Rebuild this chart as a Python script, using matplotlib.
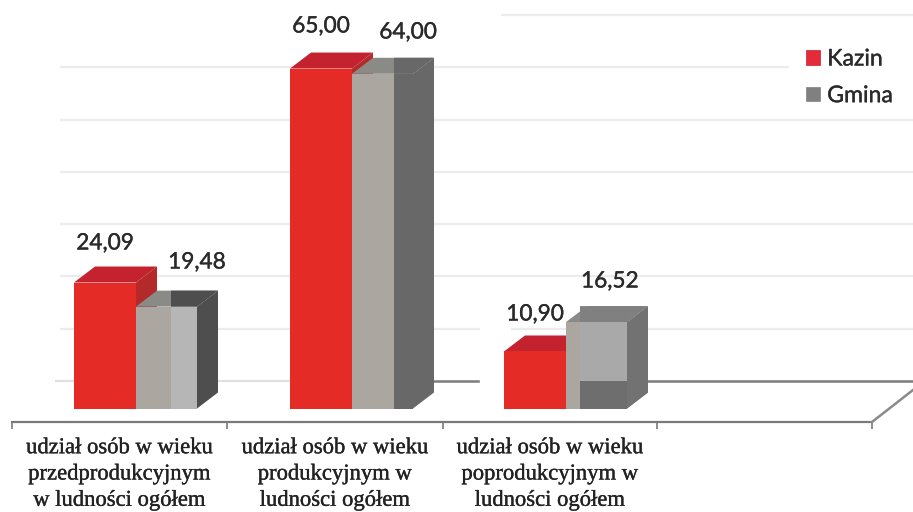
import matplotlib
matplotlib.use("Agg")
import matplotlib.pyplot as plt
import matplotlib.patheffects as pe
from matplotlib.patches import Polygon, Patch, Rectangle
import numpy as np

categories = ["udział osób w wieku\nprzedprodukcyjnym\nw ludności ogółem",
              "udział osób w wieku\nprodukcyjnym w\nludności ogółem",
              "udział osób w wieku\npoprodukcyjnym w\nludności ogółem"]
kazin = [24.09, 65.00, 10.90]
gmina = [19.48, 64.00, 16.52]
series_names = ["Kazin", "Gmina"]
grid_values = np.arange(0, 80, 10)

# layout, all in pixels of the 913x512 picture
PX = 5.23          # pixels per unit of value
BASE = 408.5       # pixel row of value 0 on the front of the bars
DX, DY = 21, 16    # depth of a bar
group_left = [74, 290, 504]
W_RED, W_GRAY = 62, 61
split = [35, 42, 14]
split_front = ["#b6b6b6", "#686868", "#a9a9a9"]
split_top = ["#4e4e4e", "#686868", "#808080"]
side_color = ["#4e4e4e", "#686868", "#727272"]
label_pos = [[(105, 243), (321, 26), (535, 314)],
             [(197, 262), (408, 32), (610, 281)]]
ticks_x = [12, 227, 443, 657, 872]


def val(y_px):
    return (BASE - y_px) / PX


fig, ax = plt.subplots(figsize=(9.13, 5.12), dpi=100)
fig.subplots_adjust(0, 0, 1, 1)
ax.set_xlim(0, 913)
ax.set_ylim(val(512), val(0))
ax.axis("off")

dv = DY / PX
wall = val(381)

# back wall grid
ax.hlines(grid_values[1:] + wall, 60, 913, color="#ececec", lw=1.6, zorder=1)
ax.hlines(wall, 55, 433, color="#e0e0e0", lw=1.6, zorder=1)
ax.hlines(wall, 433, 913, color="#7c7c7c", lw=1.8, zorder=1)

# white patches left by the scan
ax.add_patch(Rectangle((789, val(108)), 124, val(36) - val(108), color="white", zorder=2))
ax.add_patch(Rectangle((480, val(420)), 30, val(322) - val(420), color="white", zorder=2))
ax.add_patch(Rectangle((0, val(40)), 500, val(0) - val(40), color="white", zorder=2))

# floor
ax.plot([ticks_x[0], ticks_x[-1]], [val(422), val(422)], color="#7a7a7a", lw=1.6, zorder=3)
ax.vlines(ticks_x, val(429), val(422), color="#7a7a7a", lw=1.2, zorder=3)
ax.plot([ticks_x[-1], ticks_x[-1] + 55], [val(422), val(422 - 55 * 32 / 41)],
        color="#8a8a8a", lw=1.8, zorder=3)


def top_face(x0, x1, v, color, z):
    # slanted top of a bar between x0 and x1 on its front edge
    pts = [(x0, v), (x0 + DX, v + dv), (x1 + DX, v + dv), (x1, v)]
    ax.add_patch(Polygon(pts, closed=True, color=color, lw=0, zorder=z))


def side_face(x1, v, color, z):
    pts = [(x1, 0), (x1 + DX, dv), (x1 + DX, v + dv), (x1, v)]
    ax.add_patch(Polygon(pts, closed=True, color=color, lw=0, zorder=z))


for i, left in enumerate(group_left):
    red_r = left + W_RED
    gray_r = red_r + W_GRAY
    cut = red_r + split[i]

    # red bar
    side_face(red_r, kazin[i], "#b42a2a", 4)
    top_face(left, red_r, kazin[i], "#c4222e", 5)
    ax.bar(left, kazin[i], W_RED, align="edge", color="#e52b25", zorder=5)

    # gray bar
    side_face(gray_r, gmina[i], side_color[i], 6)
    top_face(red_r, gray_r, gmina[i], "#8a8a86", 7)
    top_x = [cut, cut, gray_r + DX, gray_r]
    top_y = [gmina[i], gmina[i] + dv, gmina[i] + dv, gmina[i]]
    ax.add_patch(Polygon(list(zip(top_x, top_y)), closed=True, color=split_top[i], lw=0, zorder=7))
    ax.bar(red_r, gmina[i], W_GRAY, align="edge", color="#aba6a0", zorder=7)
    ax.bar(cut, gmina[i], gray_r - cut, align="edge", color=split_front[i], zorder=8)
    if i == 2:
        # floor seen through the last bar
        ax.bar(cut, wall, gray_r - cut, align="edge", color="#6e6e6e", zorder=9)
        side_face(gray_r, wall, "#727272", 9)

# value labels
for values, positions in zip([kazin, gmina], label_pos):
    for v, (px, py) in zip(values, positions):
        ax.text(px, val(py), "{:.2f}".format(v).replace(".", ","), family="Lato",
                fontsize=16.3, color="#2a2a2a", ha="center", va="center", zorder=10,
                path_effects=[pe.withStroke(linewidth=0.25, foreground="#2a2a2a")])

# category labels
for i, c in enumerate(categories):
    x = (ticks_x[i] + ticks_x[i + 1]) / 2
    ax.text(x, val(474), c, family="Liberation Serif", fontsize=16.3, color="#222222",
            ha="center", va="center", linespacing=1.33, zorder=10,
            path_effects=[pe.withStroke(linewidth=0.25, foreground="#222222")])

handles = [Patch(facecolor="#e52b3a", edgecolor="#c4222e", lw=0.5),
           Patch(facecolor="#808080", edgecolor="#808080", lw=0.5)]
leg = ax.legend(handles, series_names, loc="upper left", frameon=False,
                bbox_to_anchor=(806, val(48.5)), bbox_transform=ax.transData,
                prop={"family": "Lato", "size": 16.6}, handlelength=0.6, handleheight=0.6,
                handletextpad=0.32, labelspacing=0.68, borderpad=0, borderaxespad=0)
leg.set_zorder(10)
for t in leg.get_texts():
    t.set_color("#2a2a2a")
    t.set_path_effects([pe.withStroke(linewidth=0.25, foreground="#2a2a2a")])

plt.savefig("out.png", dpi=100)
